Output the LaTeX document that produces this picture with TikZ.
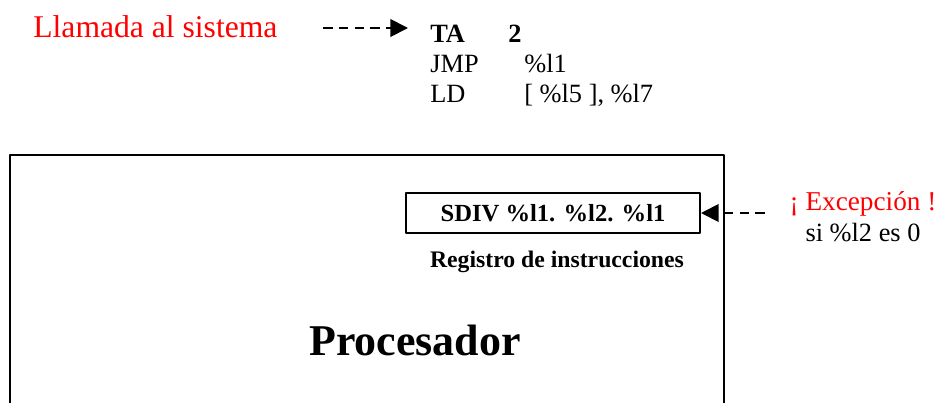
\documentclass[tikz,border=0pt]{standalone}
\usepackage{fontspec}
\setmainfont{Liberation Serif}
\usetikzlibrary{arrows.meta,positioning}
\begin{document}
\begin{tikzpicture}[x=0.02cm,y=-0.02cm,line join=round,>={Triangle[length=10pt,width=10pt]},
	txt/.style={anchor=base west,inner sep=0pt,font=\fontsize{15}{17}\selectfont},
	flecha/.style={dash pattern=on 5.5pt off 3.5pt,line width=1.1pt,->}]
	\useasboundingbox (0,0) rectangle (938,403);
	%Llamada al sistema - codigo - Procesador.
	\node[txt,text=red,font=\fontsize{18}{20}\selectfont] (llamada) at (33,37) {Llamada al sistema};
	\coordinate (L_1) at (323,28);
	\coordinate (L_2) at (408,28);
	\node[txt,font=\bfseries\fontsize{15}{17}\selectfont] (ta) at (430,42) {TA};
	\node[txt,font=\bfseries\fontsize{15}{17}\selectfont] (ta2) at (508,42) {2};
	\foreach \a/\b/\y/\n in {JMP/\%l1/72/jmp,LD/{[ \%l5 ], \%l7}/102/ld}
	{\node[txt] (\n) at (430,\y) {\a};
	 \node[txt] (\n op) at (524,\y) {\b};}
	\draw[flecha] (L_1) -- (L_2);
	% procesador
	\draw[line width=0.9pt] (10,403) -- (10,155) -- (724,155) -- (724,403);
	\node[draw,line width=1.2pt,minimum width=5.88cm,minimum height=0.8cm,font=\bfseries\fontsize{14}{16}\selectfont] (ri) at (553,213) {SDIV \%l1. \%l2. \%l1};
	\node[font=\bfseries\fontsize{13.5}{16}\selectfont] (reg) at (557,262) {Registro de instrucciones};
	\node[font=\bfseries\fontsize{25}{30}\selectfont] (proc) at (415,340) {Procesador};
	% excepcion
	\node[text=red,font=\fontsize{15.5}{19}\selectfont] (exc) at (863,204) {¡ Excepción !};
	\node[font=\fontsize{15}{17}\selectfont] (si) at (863,233) {si \%l2 es 0};
	\coordinate (E_1) at (765,213);
	\draw[flecha] (E_1) -- (ri.east);
\end{tikzpicture}
\end{document}
